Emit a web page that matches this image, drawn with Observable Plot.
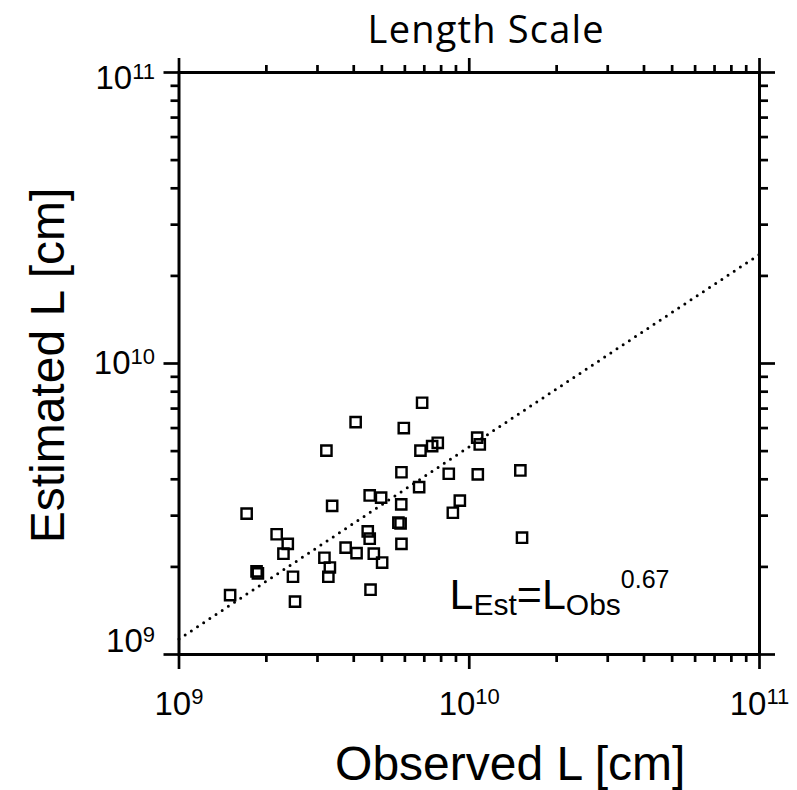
<!DOCTYPE html>
<html><head><meta charset="utf-8">
<script src="https://cdn.jsdelivr.net/npm/d3@7"></script>
<script src="https://cdn.jsdelivr.net/npm/@observablehq/plot@0.6"></script>
<style>html,body{margin:0;padding:0;background:#fff;} #chart svg{display:block}</style>
</head><body><div id="chart"></div>
<script>
// Observed and estimated length scales [cm]
const obsL = [1.50e9, 1.71e9, 1.85e9, 1.87e9, 2.17e9, 2.37e9, 2.29e9, 2.47e9, 2.51e9, 3.17e9,
              3.31e9, 3.27e9, 3.22e9, 3.37e9, 3.75e9, 4.09e9, 4.06e9, 4.47e9, 4.54e9, 4.54e9,
              4.69e9, 5.01e9, 4.57e9, 4.97e9, 5.83e9, 5.70e9, 5.80e9, 5.84e9, 5.84e9, 5.95e9,
              6.72e9, 6.79e9, 6.88e9, 7.45e9, 7.79e9, 8.50e9, 8.78e9, 9.28e9, 1.065e10, 1.087e10,
              1.07e10, 1.50e10, 1.52e10];
const estL = [1.60e9, 3.05e9, 1.93e9, 1.90e9, 2.59e9, 2.40e9, 2.22e9, 1.85e9, 1.52e9, 2.15e9,
              1.99e9, 1.85e9, 5.02e9, 3.24e9, 2.33e9, 2.23e9, 6.29e9, 2.65e9, 2.50e9, 3.52e9,
              2.22e9, 2.07e9, 1.67e9, 3.46e9, 3.28e9, 2.84e9, 2.82e9, 2.40e9, 4.23e9, 6.00e9,
              3.76e9, 5.02e9, 7.33e9, 5.20e9, 5.34e9, 4.18e9, 3.07e9, 3.38e9, 5.56e9, 5.27e9,
              4.16e9, 4.29e9, 2.52e9];
// fit line L_Est = L_Obs^0.67 (end points)
const fitObs = [1e9, 1e11];
const fitEst = [1.13e9, 2.37e10];
// ticks
const majorTicks = [1e9, 1e10, 1e11];
const majorExponents = ["9", "10", "11"];
const minorTicks = [2e9, 3e9, 4e9, 5e9, 6e9, 7e9, 8e9, 9e9, 2e10, 3e10, 4e10, 5e10, 6e10, 7e10, 8e10, 9e10];
// texts
const titleText = "Length Scale";
const xLabel = "Observed L [cm]";
const yLabel = "Estimated L [cm]";
const formulaParts = ["L", "Est", "=", "L", "Obs", "0.67"];
const formulaX = [8.55e9];
const formulaY = [1.43e9];

const points = obsL.map((x, i) => ({x, y: estL[i]}));
const fit = fitObs.map((x, i) => ({x, y: fitEst[i]}));
const expOf = new Map(majorTicks.map((t, i) => [t, majorExponents[i]]));
const formula = formulaX.map((x, i) => ({x, y: formulaY[i]}));
const formulaString = formulaParts.join("");

const FONT = "'Liberation Sans', Arial, sans-serif";
const tickW = 2.7;
const none = () => "";
// vertical nudges of the y tick labels (as placed in the original figure)
const yLabelNudge = {"9": -13, "10": 0, "11": 6};

const chart = Plot.plot({
  width: 797, height: 790,
  marginLeft: 178.5, marginRight: 38, marginTop: 72, marginBottom: 136,
  style: {background: "#fff", color: "#000", fontFamily: FONT, overflow: "visible"},
  x: {type: "log", domain: [1e9, 1e11]},
  y: {type: "log", domain: [1e9, 1e11]},
  marks: [
    Plot.axisX(minorTicks, {anchor: "bottom", tickSize: 8, strokeWidth: tickW, tickFormat: none, label: null}),
    Plot.axisX(minorTicks, {anchor: "top", tickSize: 8, strokeWidth: tickW, tickFormat: none, label: null}),
    Plot.axisY(minorTicks, {anchor: "left", tickSize: 8, strokeWidth: tickW, tickFormat: none, label: null}),
    Plot.axisY(minorTicks, {anchor: "right", tickSize: 8, strokeWidth: tickW, tickFormat: none, label: null}),
    Plot.axisX(majorTicks, {anchor: "bottom", tickSize: 15, tickPadding: 22, strokeWidth: tickW, fontSize: 33,
      tickFormat: d => "10^" + expOf.get(d), label: null}),
    Plot.axisX(majorTicks, {anchor: "top", tickSize: 15, strokeWidth: tickW, tickFormat: none, label: null}),
    Plot.axisY(majorTicks, {anchor: "left", tickSize: 15, tickPadding: 9, strokeWidth: tickW, fontSize: 33,
      tickFormat: d => "10^" + expOf.get(d), label: null}),
    Plot.axisY(majorTicks, {anchor: "right", tickSize: 15, strokeWidth: tickW, tickFormat: none, label: null}),
    Plot.frame({stroke: "#000", strokeWidth: 3}),
    Plot.line(fit, {x: "x", y: "y", stroke: "#000", strokeWidth: 3, strokeDasharray: "0,7.4", strokeLinecap: "round"}),
    Plot.dot(points, {x: "x", y: "y", symbol: "square", r: 5.8, stroke: "#000", strokeWidth: 2.4, fill: "none"}),
    Plot.text(formula, {x: "x", y: "y", text: () => formulaString, textAnchor: "start", lineAnchor: "bottom",
      fontSize: 43}),
    Plot.text([titleText], {text: d => d, frameAnchor: "top", dx: 17, dy: -30, lineAnchor: "bottom",
      fontSize: 38, fontFamily: "'Open Sans', sans-serif"}),
    Plot.text([xLabel], {text: d => d, frameAnchor: "bottom", dx: 41, dy: 125, lineAnchor: "bottom", fontSize: 48}),
    Plot.text([yLabel], {text: d => d, frameAnchor: "left", dx: -115.5, dy: 2, rotate: -90, textAnchor: "middle",
      lineAnchor: "bottom", fontSize: 48})
  ]
});

const svg = d3.select(chart);
// title letter spacing
svg.selectAll("text").filter(function () { return this.textContent === titleText; })
  .style("letter-spacing", "1.2px");
// superscript tick labels
function superscriptLabels(selector, nudge) {
  svg.selectAll(selector).each(function () {
    const s = this.textContent;
    if (!s.includes("^")) return;
    const [base, exp] = s.split("^");
    const t = d3.select(this);
    t.attr("font-size", 33).style("font-size", "33px");
    if (nudge && nudge[exp]) t.attr("dy", nudge[exp]);
    t.text(null);
    t.append("tspan").text(base);
    t.append("tspan").attr("font-size", 22).style("font-size", "22px").attr("dy", -10.5).text(exp);
  });
}
superscriptLabels('g[aria-label="x-axis tick label"] text', null);
superscriptLabels('g[aria-label="y-axis tick label"] text', yLabelNudge);
// formula with sub/superscripts
svg.selectAll("text").filter(function () { return this.textContent === formulaString; }).each(function () {
  const t = d3.select(this);
  t.text(null);
  const [l1, s1, eq, l2, s2, p] = formulaParts;
  const sp = (txt, size, dy) => {
    const e = t.append("tspan").attr("font-size", size).style("font-size", size + "px").text(txt);
    if (dy) e.attr("dy", dy);
  };
  sp(l1, 43, 0);
  sp(s1, 30, 6);
  sp(eq, 43, -6);
  sp(l2, 43, 0);
  sp(s2, 30, 6);
  sp(p, 25, -27);
});

document.getElementById("chart").appendChild(chart);
</script>
</body></html>
